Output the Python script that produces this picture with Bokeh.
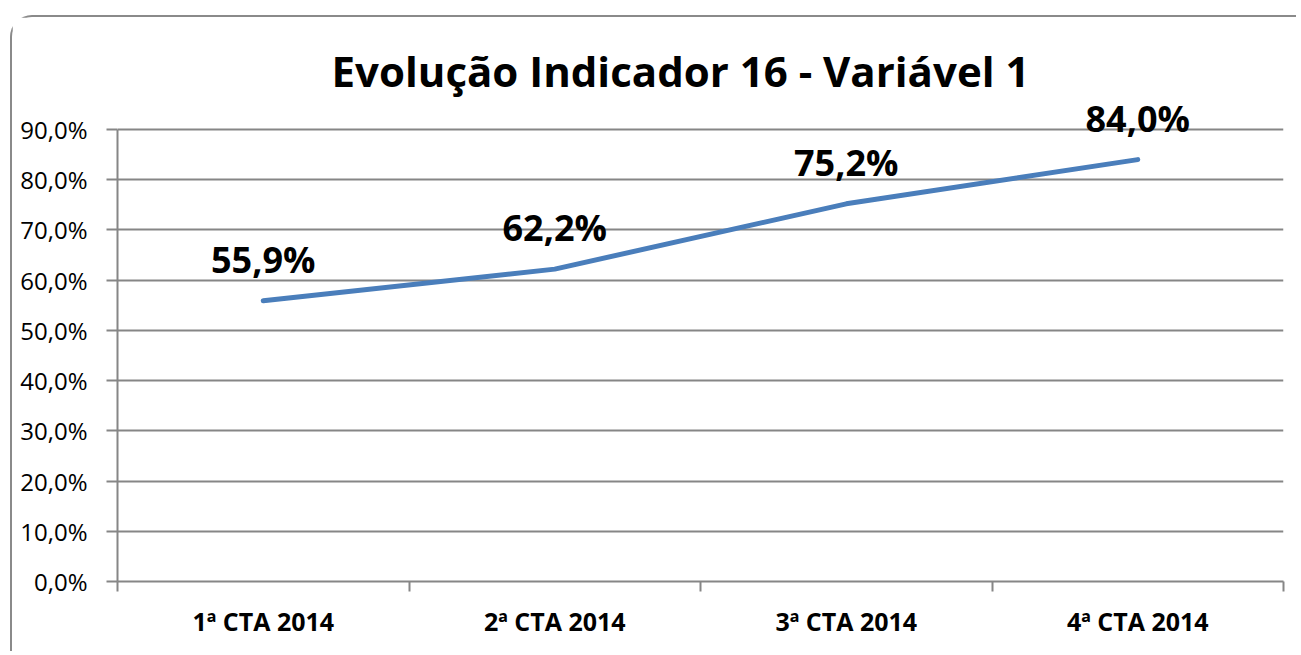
from bokeh.plotting import figure
from bokeh.models import FixedTicker, ColumnDataSource, Label, LabelSet
from bokeh.embed import file_html
from bokeh.resources import INLINE
from bokeh.core.properties import value

categories = ["1ª CTA 2014", "2ª CTA 2014", "3ª CTA 2014", "4ª CTA 2014"]
values = [55.9, 62.2, 75.2, 84.0]
y_ticks = [0, 10, 20, 30, 40, 50, 60, 70, 80, 90]
title_text = "Evolução Indicador 16 - Variável 1"

xs = [i + 0.5 for i in range(len(categories))]
labels = [f"{v:.1f}%".replace(".", ",") for v in values]
src = ColumnDataSource(dict(x=xs, y=values, label=labels))

GRAY = "#868686"
FONT = "Open Sans"

# frame: 0% at 564px below canvas top, 90% at 112px -> extend range to canvas top
y_top = y_ticks[-1] * 564 / 452

p = figure(width=1286, height=636, output_backend="svg", toolbar_location=None,
           x_range=(0, len(categories)), y_range=(0, y_top),
           min_border_left=105, min_border_right=15, min_border_top=0,
           min_border_bottom=72)
p.styles = {"margin-left": "10px", "margin-top": "15px",
            "border-left": "2px solid #8a8a8a", "border-top": "2px solid #8a8a8a",
            "border-top-left-radius": "22px"}
p.outline_line_color = None
p.background_fill_color = "white"
p.border_fill_color = "white"

title = Label(x=563, y=511, x_units="screen", y_units="screen", text=title_text,
              text_font=FONT, text_font_size="42px", text_font_style="bold",
              text_align="center", text_baseline="alphabetic", text_color="black")
p.add_layout(title)

p.line("x", "y", source=src, line_color="#4A7EBB", line_width=5, line_cap="round")
data_labels = LabelSet(x="x", y="y", text="label", source=src, text_font=value(FONT),
                       text_font_size="36px", text_font_style="bold",
                       text_align="center", text_baseline="alphabetic",
                       y_offset=28, text_color="black")
p.add_layout(data_labels)

# y axis
p.yaxis.ticker = FixedTicker(ticks=y_ticks, minor_ticks=[])
p.yaxis.bounds = (y_ticks[0], y_ticks[-1])
p.yaxis.major_label_overrides = {t_: f"{t_:.1f}%".replace(".", ",") for t_ in y_ticks}
p.yaxis.major_label_text_font = FONT
p.yaxis.major_label_text_font_size = "24px"
p.yaxis.major_label_text_color = "black"
p.yaxis.major_tick_out = 11
p.yaxis.major_tick_in = 0
p.yaxis.major_tick_line_color = GRAY
p.yaxis.major_tick_line_width = 2
p.yaxis.axis_line_color = GRAY
p.yaxis.axis_line_width = 2
p.yaxis.major_label_standoff = 19

# x axis
p.xaxis.ticker = FixedTicker(ticks=xs, minor_ticks=list(range(len(categories) + 1)))
p.xaxis.major_label_overrides = {x: c for x, c in zip(xs, categories)}
p.xaxis.major_label_text_font = FONT
p.xaxis.major_label_text_font_size = "25px"
p.xaxis.major_label_text_font_style = "bold"
p.xaxis.major_label_text_color = "black"
p.xaxis.major_tick_out = 0
p.xaxis.major_tick_in = 0
p.xaxis.minor_tick_out = 10
p.xaxis.minor_tick_in = 0
p.xaxis.minor_tick_line_color = GRAY
p.xaxis.minor_tick_line_width = 2
p.xaxis.axis_line_color = GRAY
p.xaxis.axis_line_width = 2
p.xaxis.major_label_standoff = 12

p.xgrid.visible = False
p.ygrid.ticker = FixedTicker(ticks=y_ticks)
p.ygrid.grid_line_color = GRAY
p.ygrid.grid_line_width = 2

open("out.html", "w").write(file_html(p, INLINE))
